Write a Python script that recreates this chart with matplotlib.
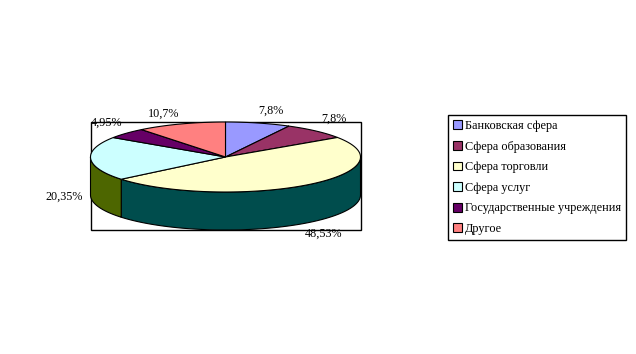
import matplotlib
matplotlib.use('Agg')
import matplotlib.pyplot as plt
import numpy as np
from matplotlib.patches import Patch, Polygon, Rectangle

plt.rcParams['font.family'] = ['Liberation Serif', 'DejaVu Serif']

# -----------------------------
# Data
# -----------------------------
categories = ['Банковская сфера', 'Сфера образования', 'Сфера торговли',
              'Сфера услуг', 'Государственные учреждения', 'Другое']
values = [7.8, 7.8, 48.53, 20.35, 4.95, 10.7]
pct_labels = ['7,8%', '7,8%', '48,53%', '20,35%', '4,95%', '10,7%']

top_colors = ['#9999FF', '#993366', '#FFFFCC', '#CCFFFF', '#660066', '#FF8080']
side_colors = ['#4C4C80', '#4C1A33', '#004D4D', '#4D6600', '#330033', '#804040']

# label spots, in pixels
label_xy = [(270.5, 111), (333.5, 119), (324, 234), (64.5, 197), (107, 123), (163.5, 114)]

# -----------------------------
# Pie geometry (pixels)
# -----------------------------
cx, cy = 225.5, 157
rx, ry = 135, 35
depth = 38


def arc(t0, t1, dy=0):
    t = np.radians(np.linspace(t0, t1, 120))
    return np.column_stack([cx + rx * np.sin(t), cy + dy - ry * np.cos(t)])


fig = plt.figure(figsize=(6.36, 3.54), dpi=100)
ax = fig.add_axes([0, 0, 1, 1])
ax.set_xlim(0, 636)
ax.set_ylim(354, 0)
ax.axis('off')

# plot area frame
ax.add_patch(Rectangle((91, 122), 270, 108, fill=False, edgecolor='black', lw=1, zorder=1))

angles = np.cumsum([0] + values) / sum(values) * 360

# side walls, only the front half shows
for i in range(len(values)):
    t0 = max(angles[i], 90)
    t1 = min(angles[i + 1], 270)
    if t1 > t0:
        pts = np.vstack([arc(t0, t1), arc(t1, t0, depth)])
        ax.add_patch(Polygon(pts, closed=True, facecolor=side_colors[i],
                             edgecolor='black', lw=0.8, zorder=2))

# top slices
for i in range(len(values)):
    pts = np.vstack([[cx, cy], arc(angles[i], angles[i + 1])])
    ax.add_patch(Polygon(pts, closed=True, facecolor=top_colors[i],
                         edgecolor='black', lw=0.8, zorder=3))

for s, (x, y) in zip(pct_labels, label_xy):
    ax.text(x, y, s, fontsize=8.7, ha='center', va='center', color='black', zorder=4)

# -----------------------------
# Legend
# -----------------------------
handles = [Patch(facecolor=c, edgecolor='black', lw=0.8, label=n)
           for c, n in zip(top_colors, categories)]
leg = ax.legend(handles=handles, loc='upper left', bbox_to_anchor=(448 / 636, 1 - 115 / 354),
                fontsize=8.8, frameon=True, fancybox=False, framealpha=1, edgecolor='black',
                borderaxespad=0, borderpad=0.42, labelspacing=0.70,
                handlelength=0.75, handleheight=0.75, handletextpad=0.2)
leg.get_frame().set_linewidth(1)

fig.savefig('out.png', dpi=100)
